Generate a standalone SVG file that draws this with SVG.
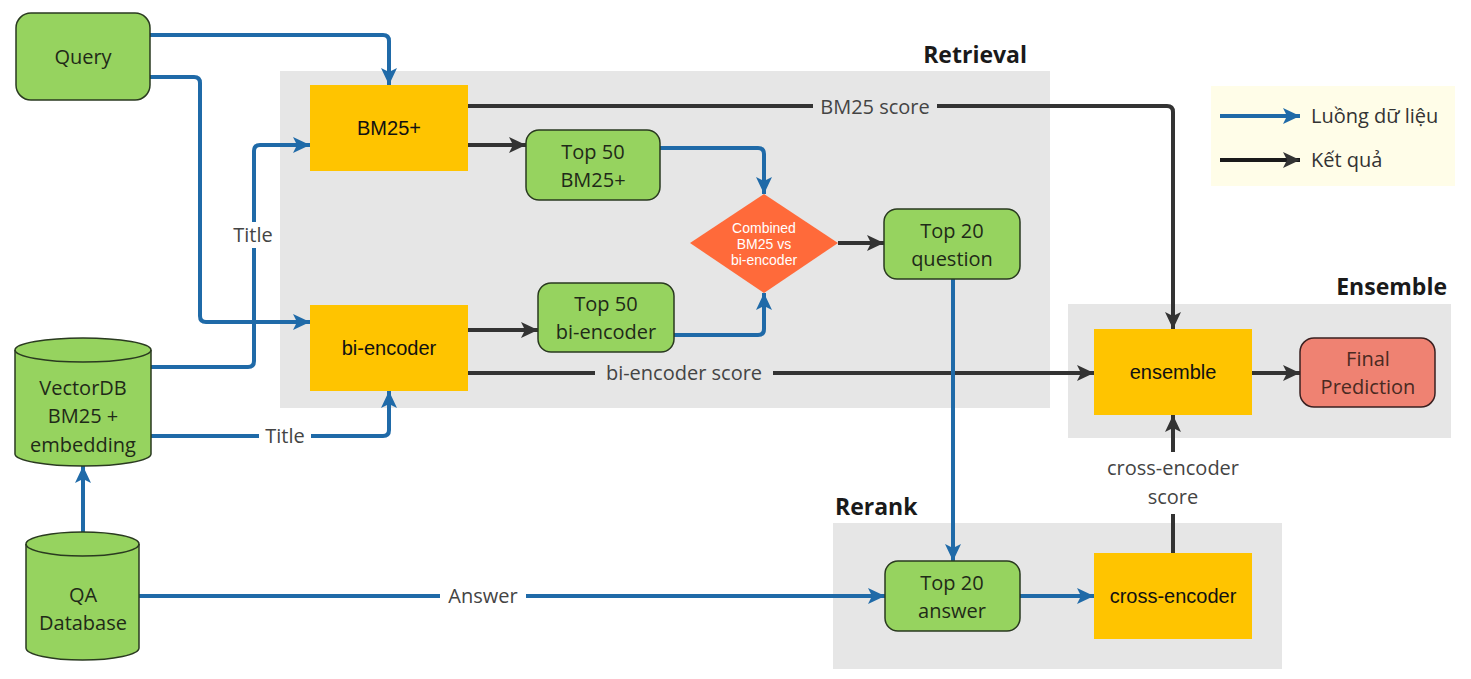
<svg xmlns="http://www.w3.org/2000/svg" width="1471" height="679" viewBox="0 0 1471 679">
<style>
.grp{fill:#e6e6e6}
.glabel{font-family:"Open Sans",sans-serif;font-weight:bold;font-size:23px;fill:#1a1a1a}
.green{fill:#96d35f;stroke:#2a3a20;stroke-width:1.5}
.yellow{fill:#ffc400}
.salmon{fill:#ef8272;stroke:#3a2020;stroke-width:1.5}
.t{font-family:"Open Sans",sans-serif;font-size:20px;fill:#1f2a18;text-anchor:middle}
.ta{font-family:"Liberation Sans",Arial,sans-serif;font-size:20px;fill:#111;text-anchor:middle}
.lbl{font-family:"Open Sans",sans-serif;font-size:20px;fill:#444;text-anchor:middle}
.dt{font-family:"Liberation Sans",Arial,sans-serif;font-size:14px;fill:#fff;text-anchor:middle}
.blue{fill:none;stroke:#1f6aa8;stroke-width:4;stroke-linejoin:round}
.blk{fill:none;stroke:#333;stroke-width:4;stroke-linejoin:round}
</style>
<defs>
<marker id="ab" markerUnits="userSpaceOnUse" markerWidth="18" markerHeight="18" viewBox="0 0 18 18" refX="17" refY="9" orient="auto">
<path d="M0,1 L17,9 L0,17 L4,9 z" fill="#1f6aa8"/>
</marker>
<marker id="ak" markerUnits="userSpaceOnUse" markerWidth="18" markerHeight="18" viewBox="0 0 18 18" refX="17" refY="9" orient="auto">
<path d="M0,1 L17,9 L0,17 L4,9 z" fill="#333"/>
</marker>
</defs>

<g id="group-retrieval">
<rect class="grp" x="280" y="71" width="770" height="337"/>
<text class="glabel" x="1027" y="63" text-anchor="end">Retrieval</text>
</g>
<g id="group-ensemble">
<rect class="grp" x="1068" y="304" width="383" height="134"/>
<text class="glabel" x="1447" y="295" text-anchor="end">Ensemble</text>
</g>
<g id="group-rerank">
<rect class="grp" x="833" y="523" width="449" height="146"/>
<text class="glabel" x="835" y="515">Rerank</text>
</g>

<g id="legend">
<rect x="1211" y="86" width="244" height="100" fill="#fffde8"/>
<line x1="1220" y1="116" x2="1300" y2="116" class="blue" marker-end="url(#ab)"/>
<text x="1311" y="123" font-family="Open Sans, sans-serif" font-size="20" fill="#333">Luồng dữ liệu</text>
<line x1="1220" y1="160" x2="1300" y2="160" stroke="#1a1a1a" stroke-width="4" marker-end="url(#ak)"/>
<text x="1311" y="167" font-family="Open Sans, sans-serif" font-size="20" fill="#333">Kết quả</text>
</g>

<g id="connectors">
<path class="blue" d="M150,35 H383 Q389,35 389,41 V85" marker-end="url(#ab)"/>
<path class="blue" d="M150,77 H194 Q200,77 200,83 V316 Q200,322 206,322 H310" marker-end="url(#ab)"/>
<path class="blue" d="M151,367 H248 Q254,367 254,361 V151 Q254,145 260,145 H310" marker-end="url(#ab)"/>
<path class="blue" d="M151,436 H383 Q389,436 389,430 V391" marker-end="url(#ab)"/>
<path class="blue" d="M83,532 V466" marker-end="url(#ab)"/>
<path class="blue" d="M139,596 H885" marker-end="url(#ab)"/>
<path class="blk" d="M468,145 H526" marker-end="url(#ak)"/>
<path class="blk" d="M468,106 H1167 Q1173,106 1173,112 V329" marker-end="url(#ak)"/>
<path class="blue" d="M660,148 H758 Q764,148 764,154 V194" marker-end="url(#ab)"/>
<path class="blue" d="M674,335 H758 Q764,335 764,329 V293" marker-end="url(#ab)"/>
<path class="blk" d="M468,330 H538" marker-end="url(#ak)"/>
<path class="blk" d="M468,373 H1094" marker-end="url(#ak)"/>
<path class="blk" d="M838,243 H884" marker-end="url(#ak)"/>
<path class="blue" d="M953,279 V561" marker-end="url(#ab)"/>
<path class="blue" d="M1020,596 H1094" marker-end="url(#ab)"/>
<path class="blk" d="M1173,553 V415" marker-end="url(#ak)"/>
<path class="blk" d="M1252,373 H1300" marker-end="url(#ak)"/>
<rect x="228" y="222" width="50" height="26" fill="#ffffff"/>
<text class="lbl" x="253" y="242">Title</text>
<rect x="259" y="423" width="52" height="26" fill="#ffffff"/>
<text class="lbl" x="285" y="443">Title</text>
<rect x="440" y="583" width="86" height="26" fill="#ffffff"/>
<text class="lbl" x="483" y="603">Answer</text>
<rect x="813" y="93" width="124" height="26" fill="#e6e6e6"/>
<text class="lbl" x="875" y="114">BM25 score</text>
<rect x="595" y="360" width="178" height="26" fill="#e6e6e6"/>
<text class="lbl" x="684" y="380">bi-encoder score</text>
<rect x="1098" y="452" width="150" height="62" fill="#ffffff"/>
<text class="lbl" x="1173" y="475">cross-encoder</text>
<text class="lbl" x="1173" y="504">score</text>
</g>

<g id="query">
<rect class="green" x="16" y="13" width="134" height="87" rx="15"/>
<text class="t" x="83" y="64">Query</text>
</g>
<g id="bm25">
<rect class="yellow" x="310" y="85" width="158" height="86"/>
<text class="ta" x="389" y="135">BM25+</text>
</g>
<g id="biencoder">
<rect class="yellow" x="310" y="305" width="158" height="86"/>
<text class="ta" x="389" y="355">bi-encoder</text>
</g>
<g id="top50bm25">
<rect class="green" x="526" y="130" width="134" height="70" rx="13"/>
<text class="t" x="593" y="159">Top 50</text>
<text class="t" x="593" y="187">BM25+</text>
</g>
<g id="top50bi">
<rect class="green" x="538" y="283" width="136" height="69" rx="13"/>
<text class="t" x="606" y="311">Top 50</text>
<text class="t" x="606" y="339">bi-encoder</text>
</g>
<g id="combined">
<polygon points="764,194 838,243 764,293 690,243" fill="#ff6a3a"/>
<text class="dt" x="764" y="233">Combined</text>
<text class="dt" x="764" y="249">BM25 vs</text>
<text class="dt" x="764" y="265">bi-encoder</text>
</g>
<g id="top20q">
<rect class="green" x="884" y="209" width="136" height="70" rx="13"/>
<text class="t" x="952" y="238">Top 20</text>
<text class="t" x="952" y="266">question</text>
</g>
<g id="ensemble">
<rect class="yellow" x="1094" y="329" width="158" height="86"/>
<text class="ta" x="1173" y="379">ensemble</text>
</g>
<g id="final">
<rect class="salmon" x="1300" y="338" width="135" height="69" rx="14"/>
<text x="1368" y="366" font-family="Open Sans, sans-serif" font-size="20" fill="#4a2a22" text-anchor="middle">Final</text>
<text x="1368" y="394" font-family="Open Sans, sans-serif" font-size="20" fill="#4a2a22" text-anchor="middle">Prediction</text>
</g>
<g id="top20a">
<rect class="green" x="885" y="561" width="135" height="70" rx="13"/>
<text class="t" x="952" y="590">Top 20</text>
<text class="t" x="952" y="618">answer</text>
</g>
<g id="crossencoder">
<rect class="yellow" x="1094" y="553" width="158" height="86"/>
<text class="ta" x="1173" y="603">cross-encoder</text>
</g>
<g id="vectordb">
<path class="green" d="M15,350 A68,12 0 0 1 151,350 V454 A68,12 0 0 1 15,454 Z"/>
<path d="M15,350 A68,12 0 0 0 151,350" fill="none" stroke="#2a3a20" stroke-width="1.5"/>
<text class="t" x="83" y="395">VectorDB</text>
<text class="t" x="83" y="423">BM25 +</text>
<text class="t" x="83" y="452">embedding</text>
</g>
<g id="qadb">
<path class="green" d="M26,544 A56.5,12 0 0 1 139,544 V648 A56.5,12 0 0 1 26,648 Z"/>
<path d="M26,544 A56.5,12 0 0 0 139,544" fill="none" stroke="#2a3a20" stroke-width="1.5"/>
<text class="t" x="83" y="602">QA</text>
<text class="t" x="83" y="630">Database</text>
</g>
</svg>
